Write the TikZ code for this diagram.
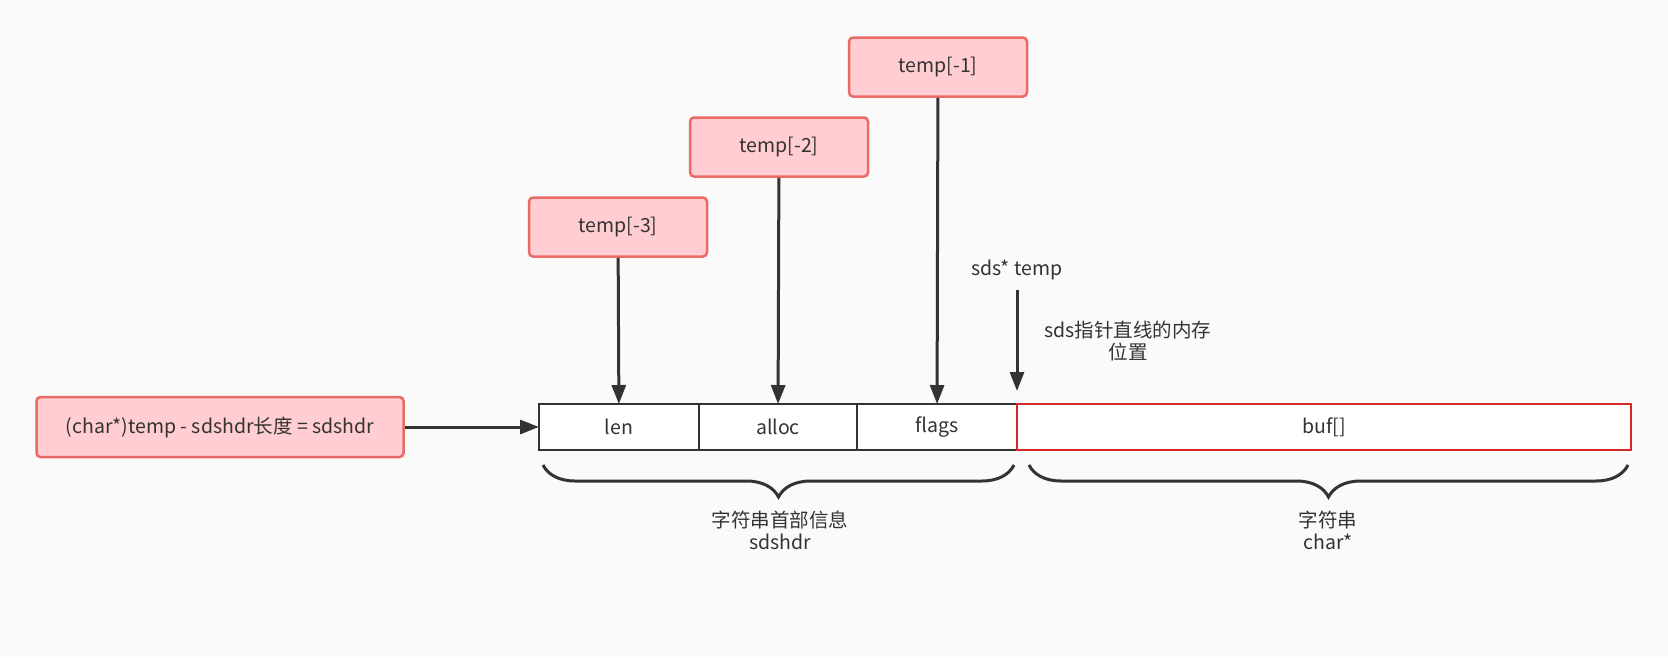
\documentclass[tikz,border=0pt]{standalone}
\usepackage{fontspec}
\setmainfont{Noto Sans CJK SC}
\usetikzlibrary{arrows.meta,positioning,decorations.pathreplacing}
\definecolor{sdsbg}{RGB}{250,250,250}
\definecolor{sdsline}{RGB}{51,51,51}
\definecolor{sdspink}{RGB}{255,205,210}
\definecolor{sdsedge}{RGB}{234,107,102}
\definecolor{sdsred}{RGB}{214,40,40}

\begin{document}
\begin{tikzpicture}[x=1pt, y=1pt,
  every node/.style={font=\fontsize{19.5}{22}\selectfont, text=sdsline},
  ptrbox/.style={draw=sdsedge, fill=sdspink, line width=2.5pt, rounded corners=4pt,
    minimum width=178pt, minimum height=59pt},
  cell/.style={draw=sdsline, fill=white, line width=2.6pt, minimum height=46pt,
    inner sep=0pt, outer sep=0pt},
  ptr/.style={draw=sdsline, line width=3pt, -{Triangle[length=19pt,width=14pt]}},
  hdrbrace/.style={draw=sdsline, line width=3pt,
    decorate, decoration={brace, mirror, amplitude=32pt}}]

% === Canvas ===
\fill[sdsbg] (0,0) rectangle (1668,-657);
\useasboundingbox (0,0) rectangle (1668,-657);

% === Memory layout ===
\node[cell, minimum width=160pt] (len) at (619,-427) {len};
\node[cell, minimum width=158pt, right=0pt of len] (alloc) {alloc};
\node[cell, minimum width=160pt, right=0pt of alloc] (flags) {flags};
\node[cell, draw=sdsred, minimum width=614pt, right=0pt of flags] (buf) {buf[]};

% === Pointers into the header ===
\node[ptrbox] (tminus3) at (618,-227) {temp[-3]};
\node[ptrbox] (tminus2) at (779,-147) {temp[-2]};
\node[ptrbox] (tminus1) at (938,-67) {temp[-1]};

\draw[ptr] (tminus3) -- (len);
\draw[ptr] (tminus2) -- (alloc);
\draw[ptr] (tminus1) -- (flags);

% sds pointer
\node (sdsptr) at (1017,-270) {sds* temp};
\coordinate (sdstip) at (1017,-391);
\draw[ptr, shorten <=6pt] (sdsptr.south) -- (sdstip);
\node[align=center] (sdsnote) at (1128,-341) {sds指针直线的内存\\位置};

% Header start
\node[ptrbox, minimum width=367pt, minimum height=60pt] (hdrexpr) at (220,-427)
  {(char*)temp - sdshdr长度 = sdshdr};
\draw[ptr] (hdrexpr) -- (len);

% === Braces ===
\draw[hdrbrace] (543,-465) -- (1014,-465);
\draw[hdrbrace] (1029,-465) -- (1628,-465);
\node[align=center] (hdrlabel) at (780,-530) {字符串首部信息\\sdshdr};
\node[align=center] (strlabel) at (1328,-530) {字符串\\char*};

\end{tikzpicture}
\end{document}
